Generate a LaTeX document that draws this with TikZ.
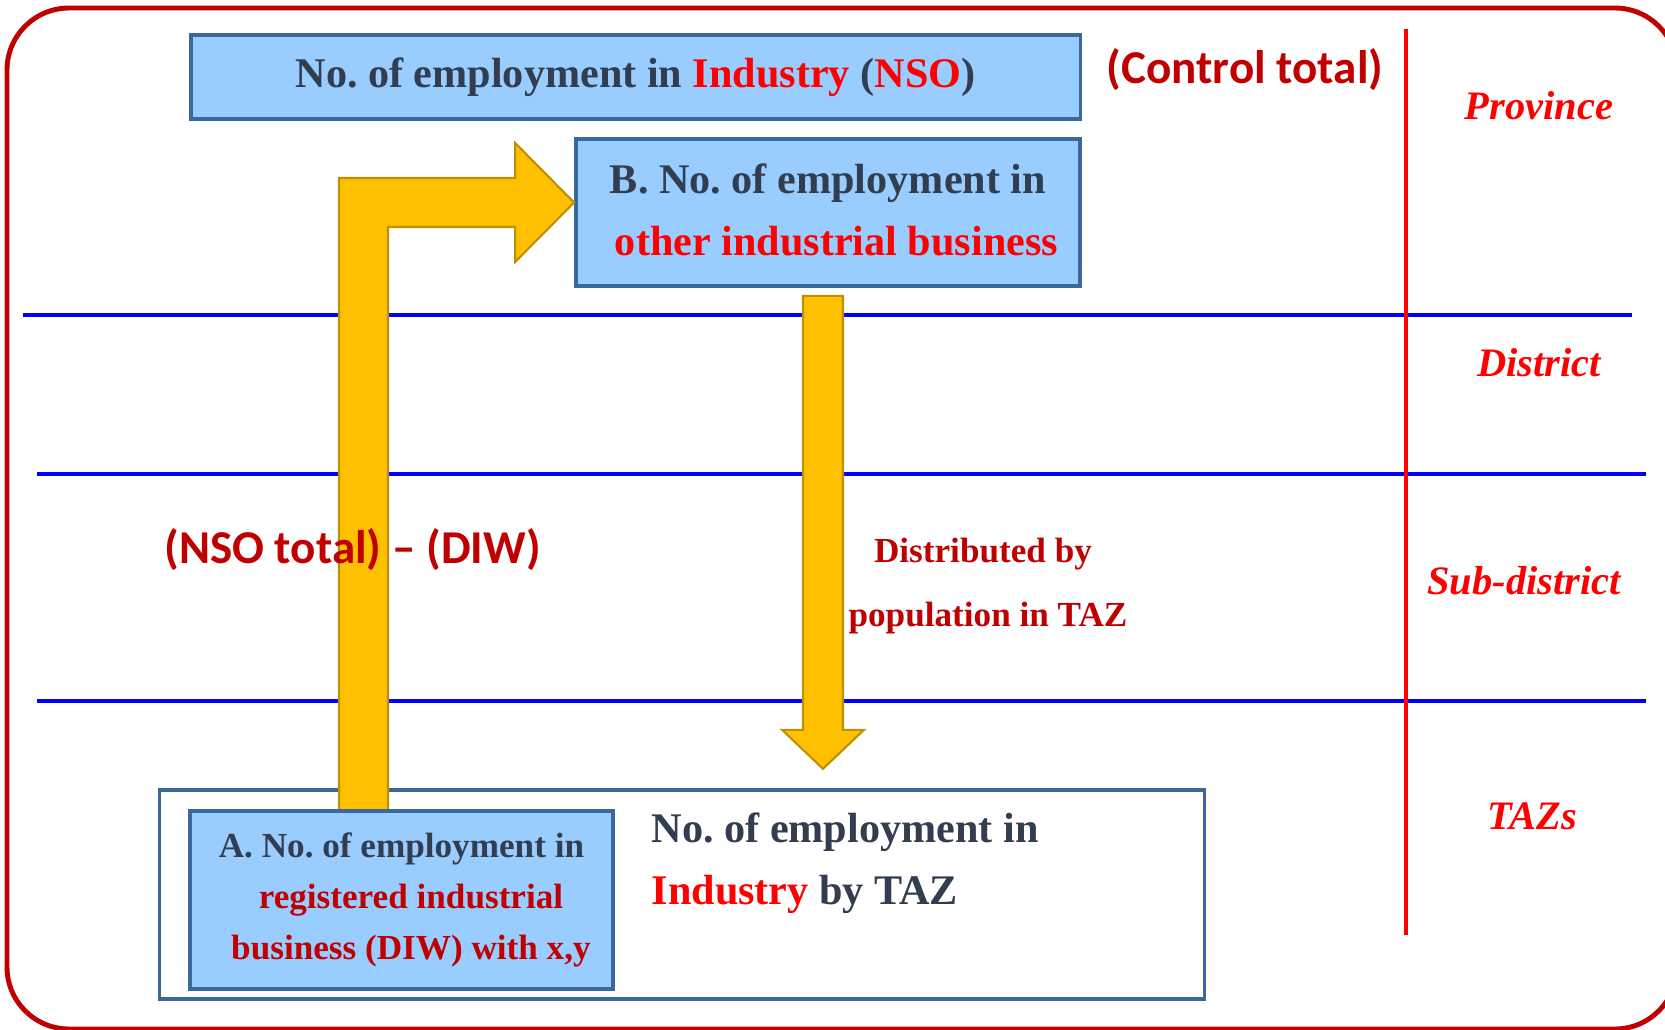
\documentclass[tikz,border=0pt]{standalone}
\usepackage{fontspec}
\setmainfont{Liberation Serif}
\newfontfamily\calib{Carlito}
\usepackage{tikz}
\usetikzlibrary{positioning,calc}
\definecolor{boxfill}{RGB}{153,204,255}
\definecolor{boxline}{RGB}{58,104,154}
\definecolor{textdark}{RGB}{50,62,79}
\definecolor{darkred}{RGB}{192,0,0}
\definecolor{arrowfill}{RGB}{255,192,0}
\definecolor{arrowline}{RGB}{191,144,0}
\frenchspacing
\tikzset{
    % blue boxes
    bluebox/.style={
           rectangle,
           fill=boxfill,
           draw=boxline, line width=1pt,
           inner sep=0pt,
           align=center,
           text=textdark,
           font=\bfseries},
    % white frame for the TAZ level
    tazbox/.style={
           rectangle,
           draw=boxline, line width=1pt,
           inner sep=0pt},
    % level names on the right
    level/.style={
           text=red,
           font=\fontsize{11.5}{13}\selectfont\bfseries\itshape},
    % sans labels
    note/.style={
           text=darkred, inner sep=0pt,
           font=\calib\fontsize{13.4}{15}\selectfont\bfseries},
    % separators
    sep/.style={blue, line width=0.9pt},
    % block arrows
    blockarrow/.style={
           fill=arrowfill,
           draw=arrowline, line width=0.6pt}
}
\begin{document}
\begin{tikzpicture}[x=0.01cm, y=-0.01cm]
    \useasboundingbox (0,0) rectangle (1665,1030);
    \draw[darkred, line width=1.4pt, rounded corners=0.62cm] (7,8) rectangle (1677,1029);

    % level separators
    \draw[sep] (23,315) -- (1632,315);
    \draw[sep] (37,474) -- (1646,474);
    \draw[sep] (37,701) -- (1646,701);
    \draw[red, line width=0.9pt] (1406,29) -- (1406,935);

    \node[bluebox, minimum width=8.89cm, minimum height=0.84cm,
          font=\fontsize{12}{17.6}\selectfont\bfseries] (nso) at (635.5,77)
        {No. of employment in \textcolor{red}{Industry} (\textcolor{red}{NSO})};
    \node[bluebox, minimum width=5.04cm, minimum height=1.47cm,
          font=\fontsize{12}{17.6}\selectfont\bfseries] (other) at (828,212.5)
        {\raisebox{1.5pt}{\begin{tabular}{@{}c@{}}B. No. of employment in\\
         \hspace*{0.17cm}\textcolor{red}{other industrial business}\end{tabular}}};
    \node[tazbox, minimum width=10.44cm, minimum height=2.09cm] (taz) at (682,894.5) {};

    % arrow from A up to B
    \coordinate (footA) at (339,811);
    \coordinate (tipB) at ($(other.west)+(0,-10)$);
    \draw[blockarrow] (footA) |- ($(tipB)+(-59,-24.5)$) -- ++(0,-35) -- (tipB)
        -- ++(-59,59.5) -- ++(0,-35) -| ($(footA)+(49,0)$) -- cycle;
    % arrow from B down to the TAZs
    \coordinate (downtop) at ($(other.south)+(-5,8)$);
    \draw[blockarrow] ($(downtop)+(-20,0)$) -- ++(0,434) -- ++(-21,0)
        -- ($(downtop)+(0,473)$) -- ++(41,-39) -- ++(-21,0) -- ++(0,-434) -- cycle;

    \node[bluebox, minimum width=4.23cm, minimum height=1.78cm,
          font=\fontsize{10}{14.5}\selectfont\bfseries] (diw) at (401.5,900)
        {A. No. of employment in\\ \hspace*{0.19cm}\textcolor{darkred}{registered industrial}\\ \hspace*{0.19cm}\textcolor{darkred}{business (DIW) with x,y}};
    \node[align=left, anchor=west, inner sep=0pt, text=textdark,
          font=\fontsize{12}{17.8}\selectfont\bfseries] (tazlabel) at (651,863)
        {No. of employment in\\ \textcolor{red}{Industry} by TAZ};

    \node[note] (control) at (1245,70) {(Control total)};
    \node[note] (diff) at (352.5,550) {(NSO total) – (DIW)};
    \node[align=center, text=darkred, inner sep=0pt,
          font=\fontsize{10}{18}\selectfont\bfseries] (distr) at (983,586)
        {Distributed by\\ \hspace*{0.1cm}population in TAZ};

    \node[level] (province) at (1539,106) {Province};
    \node[level] (district) at (1539,363) {District};
    \node[level] (subdistrict) at (1524,581) {Sub-district};
    \node[level] (tazs) at (1532,816) {TAZs};
\end{tikzpicture}
\end{document}
